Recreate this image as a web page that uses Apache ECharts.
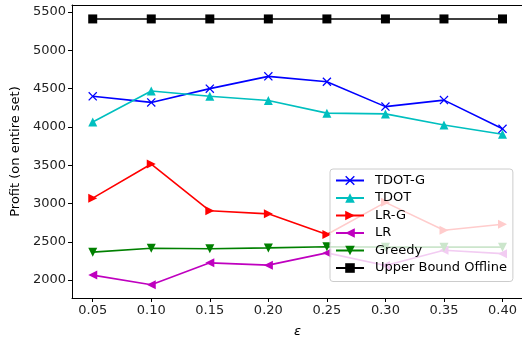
<!DOCTYPE html>
<html>
<head>
<meta charset="utf-8">
<script src="https://cdn.jsdelivr.net/npm/echarts@6/dist/echarts.min.js"></script>
<style>
html,body{margin:0;padding:0;background:#fff;}
#chart{width:522px;height:339px;}
</style>
</head>
<body>
<div id="chart"></div>
<script>
var eps = [0.05, 0.10, 0.15, 0.20, 0.25, 0.30, 0.35, 0.40];
var xTicks = [0.05, 0.10, 0.15, 0.20, 0.25, 0.30, 0.35, 0.40];
var yTicks = [2000, 2500, 3000, 3500, 4000, 4500, 5000, 5500];

var tdotG  = [4400, 4320, 4500, 4660, 4590, 4265, 4350, 3975];
var tdot   = [4065, 4470, 4400, 4345, 4180, 4170, 4025, 3905];
var lrG    = [3070, 3515, 2905, 2865, 2595, 3015, 2650, 2730];
var lr     = [2065, 1940, 2225, 2195, 2355, 2190, 2390, 2345];
var greedy = [2365, 2415, 2410, 2420, 2435, 2430, 2430, 2430];
var upper  = [5410, 5410, 5410, 5410, 5410, 5410, 5410, 5410];

var names = ['TDOT-G', 'TDOT', 'LR-G', 'LR', 'Greedy', 'Upper Bound Offline'];
var colors = ['#0000ff', '#00bfbf', '#ff0000', '#bf00bf', '#008000', '#000000'];
var symbols = [
  'path://M0,1L1,0L5,4L9,0L10,1L6,5L10,9L9,10L5,6L1,10L0,9L4,5Z',
  'path://M5,0L10,10L0,10Z',
  'path://M0,0L10,5L0,10Z',
  'path://M10,0L0,5L10,10Z',
  'path://M0,0L10,0L5,10Z',
  'rect'
];
var values = [tdotG, tdot, lrG, lr, greedy, upper];

function pairs(v){
  var out = [];
  for (var i=0;i<eps.length;i++){ out.push([eps[i], v[i]]); }
  return out;
}

var series = [];
for (var k=0;k<names.length;k++){
  series.push({
    name: names[k],
    type: 'line',
    data: pairs(values[k]),
    symbol: symbols[k],
    symbolSize: 9,
    showAllSymbol: true,
    animation: false,
    lineStyle: {color: colors[k], width: 1.6},
    itemStyle: {color: colors[k]},
    z: 2
  });
}

var myChart = echarts.init(document.getElementById('chart'));
var option = {
  animation: false,
  textStyle: {fontFamily: 'DejaVu Sans'},
  grid: {left: 72, right: -1, top: 5, bottom: 41, containLabel: false, outerBoundsMode: 'none', show: false},
  legend: {
    orient: 'vertical',
    left: 330,
    top: 169,
    z: 20,
    padding: [5, 6, 7, 5],
    itemWidth: 28,
    itemHeight: 12,
    itemGap: 4.5,
    backgroundColor: 'rgba(255,255,255,0.8)',
    borderColor: '#cccccc',
    borderWidth: 1,
    borderRadius: 3,
    textStyle: {fontSize: 13, color: '#000', fontFamily: 'DejaVu Sans', padding: [0, 0, 0, 6]},
    data: names
  },
  xAxis: [{
    type: 'value',
    min: 0.0323,
    max: 0.4175,
    name: 'ε',
    nameLocation: 'middle',
    nameGap: 27,
    nameTextStyle: {fontSize: 13, fontStyle: 'italic', color: '#000', fontFamily: 'DejaVu Sans'},
    splitLine: {show: false},
    axisLine: {lineStyle: {color: '#000', width: 1}},
    axisTick: {inside: false, length: 4, lineStyle: {color: '#000'}, customValues: xTicks},
    axisLabel: {fontSize: 13, color: '#222', margin: 6, customValues: xTicks,
      formatter: function(v){ return v.toFixed(2); }}
  }, {
    type: 'value',
    position: 'top',
    min: 0.0323,
    max: 0.4175,
    splitLine: {show: false},
    axisLine: {show: true, lineStyle: {color: '#000', width: 1}},
    axisTick: {show: false},
    axisLabel: {show: false}
  }],
  yAxis: {
    type: 'value',
    min: 1766,
    max: 5592,
    name: 'Profit (on entire set)',
    nameLocation: 'middle',
    nameGap: 50,
    nameTextStyle: {fontSize: 13, color: '#000', fontFamily: 'DejaVu Sans'},
    splitLine: {show: false},
    axisLine: {show: true, lineStyle: {color: '#000', width: 1}},
    axisTick: {show: true, length: 4, lineStyle: {color: '#000'}, customValues: yTicks},
    axisLabel: {fontSize: 13, color: '#222', margin: 6, customValues: yTicks,
      formatter: function(v){ return String(v); }}
  },
  series: series
};
myChart.setOption(option);
</script>
</body>
</html>
